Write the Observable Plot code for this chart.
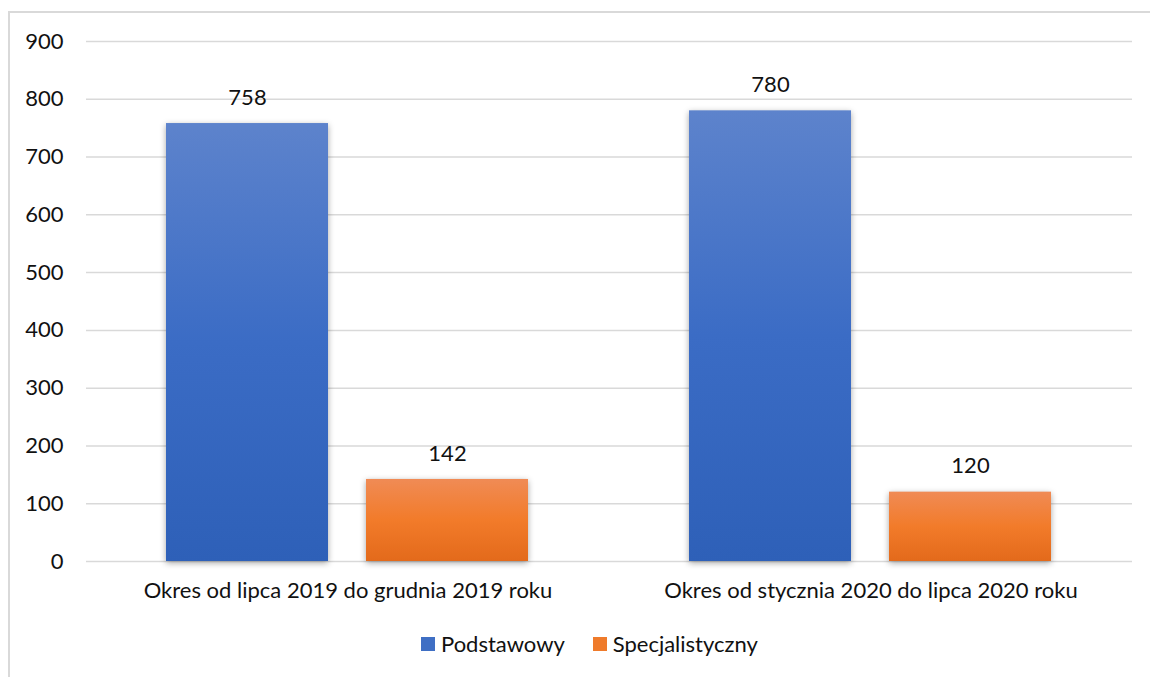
<!DOCTYPE html>
<html><head><meta charset="utf-8">
<script src="https://cdn.jsdelivr.net/npm/d3@7"></script>
<script src="https://cdn.jsdelivr.net/npm/@observablehq/plot@0.6"></script>
<style>
html,body{margin:0;padding:0;background:#fff;}
body{width:1150px;height:677px;position:relative;overflow:hidden;font-family:Lato,"Open Sans",sans-serif;}
#frame{position:absolute;left:8px;top:11px;width:1200px;height:720px;border:2px solid #d9d9d9;box-sizing:border-box;}
#chart{position:absolute;left:0;top:0;}
#legend{position:absolute;top:630px;left:421px;display:flex;align-items:center;font-size:22px;color:#111;white-space:nowrap;}
.sw{display:inline-block;width:14px;height:14px;margin-right:6px;}
.item{display:flex;align-items:center;margin-right:28px;}
</style>
</head><body>
<div id="frame"></div>
<div id="chart"></div>
<div id="legend"></div>
<script>
const periods = ["Okres od lipca 2019 do grudnia 2019 roku", "Okres od stycznia 2020 do lipca 2020 roku"];
const series = ["Podstawowy", "Specjalistyczny"];
const podstawowy = [758, 780];
const specjalistyczny = [142, 120];
const yTicks = [0, 100, 200, 300, 400, 500, 600, 700, 800, 900];
const seriesColors = ["#3f6fc4", "#ef7b2b"];

const data = [];
periods.forEach((p, i) => {
  data.push({period: p, series: series[0], value: podstawowy[i]});
  data.push({period: p, series: series[1], value: specjalistyczny[i]});
});

const chart = Plot.plot({
  width: 1150,
  height: 610,
  marginLeft: 85,
  marginRight: 18,
  marginTop: 41,
  marginBottom: 49,
  style: {fontFamily: "Lato, 'Open Sans', sans-serif", fontSize: "22px", color: "#111", background: "transparent"},
  fx: {domain: periods, padding: 0, label: null},
  x: {domain: series, paddingInner: 0.189, paddingOuter: 0.397, axis: null},
  y: {domain: [0, 900], label: null},
  color: {domain: series, range: ["url(#gBlue)", "url(#gOrange)"]},
  marks: [
    Plot.gridY(yTicks, {stroke: "#d9d9d9", strokeOpacity: 1, strokeWidth: 1.5}),
    Plot.axisY(yTicks, {tickSize: 0, tickPadding: 23, label: null, fontSize: 22}),
    Plot.barY(data, {fx: "period", x: "series", y: "value", fill: "series"}),
    Plot.text(data, {fx: "period", x: "series", y: "value", text: d => String(d.value), dy: -26, fontSize: 22, fill: "#111"}),
    Plot.axisFx({anchor: "bottom", tickSize: 0, tickPadding: 21, label: null, fontSize: 22})
  ]
});

const defs = document.createElementNS("http://www.w3.org/2000/svg", "defs");
defs.innerHTML = `
<linearGradient id="gBlue" x1="0" y1="0" x2="0" y2="1">
  <stop offset="0" stop-color="#5d83cc"/>
  <stop offset="0.5" stop-color="#3b6cc5"/>
  <stop offset="1" stop-color="#2e60b8"/>
</linearGradient>
<linearGradient id="gOrange" x1="0" y1="0" x2="0" y2="1">
  <stop offset="0" stop-color="#f08b55"/>
  <stop offset="0.5" stop-color="#f27b2a"/>
  <stop offset="1" stop-color="#e36a1b"/>
</linearGradient>`;
chart.insertBefore(defs, chart.firstChild);
chart.querySelectorAll('g[aria-label="bar"] rect').forEach(r => {
  r.style.filter = "drop-shadow(0px 2px 3px rgba(0,0,0,0.35))";
});
document.getElementById("chart").appendChild(chart);

const legend = document.getElementById("legend");
series.forEach((s, i) => {
  const item = document.createElement("div");
  item.className = "item";
  const sw = document.createElement("span");
  sw.className = "sw";
  sw.style.background = seriesColors[i];
  item.appendChild(sw);
  item.appendChild(document.createTextNode(s));
  legend.appendChild(item);
});
</script>
</body></html>
